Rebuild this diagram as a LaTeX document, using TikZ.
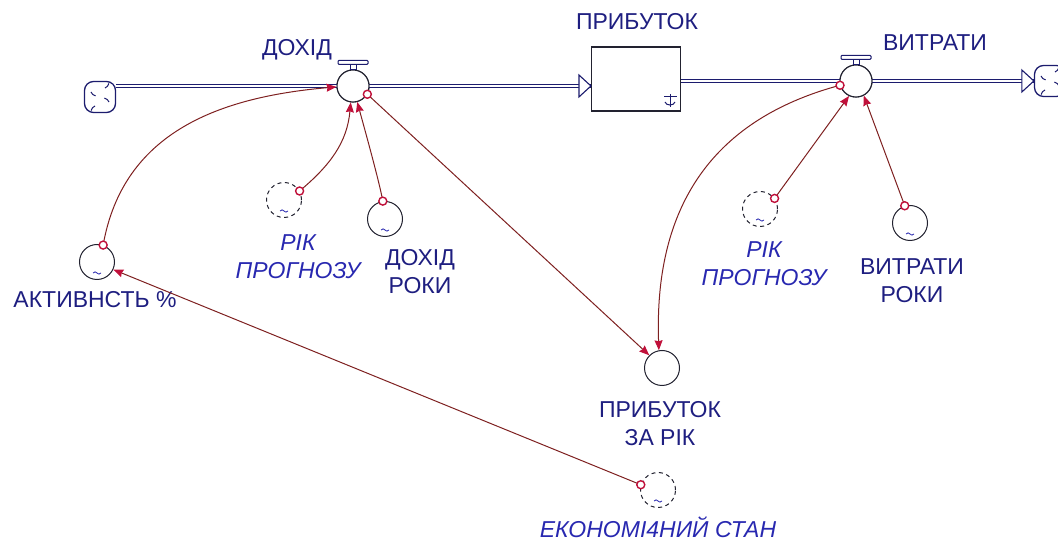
\documentclass[tikz,border=0pt]{standalone}
\usepackage{fontspec}
\setmainfont{Liberation Sans}
\usetikzlibrary{arrows.meta}
\definecolor{navy}{HTML}{1C1C6E}
\definecolor{lbl}{HTML}{1E1E80}
\definecolor{ital}{HTML}{2828B0}
\definecolor{connc}{HTML}{7E2020}
\definecolor{tipred}{HTML}{C0103A}
\definecolor{outl}{HTML}{222230}
\newcommand{\tld}[1]{\draw[ital,line width=0.8pt] ([shift={(-4,-11)}]#1.center) .. controls ([shift={(-1,-7)}]#1.center) and ([shift={(1,-15)}]#1.center) .. ([shift={(4,-11)}]#1.center);}
\newcommand{\cloudmarks}[1]{%
  \draw[navy,line width=1pt] ([shift={(-9,5)}]#1.center) arc[start angle=200,end angle=260,radius=6];
  \draw[navy,line width=1pt] ([shift={(5,9)}]#1.center) arc[start angle=290,end angle=350,radius=6];
  \draw[navy,line width=1pt] ([shift={(9,-5)}]#1.center) arc[start angle=20,end angle=80,radius=6];
  \draw[navy,line width=1pt] ([shift={(-5,-9)}]#1.center) arc[start angle=110,end angle=170,radius=6];}
\begin{document}
\begin{tikzpicture}[x=1pt,y=1pt,
  aux/.style={circle,draw=outl,line width=1pt,minimum size=35pt,inner sep=0pt,fill=white},
  ghost/.style={aux,dash pattern=on 4pt off 3.5pt},
  valvec/.style={circle,draw=outl,line width=1.1pt,minimum size=32pt,inner sep=0pt,fill=white},
  lab/.style={text=lbl,font=\fontsize{23}{28}\selectfont,align=center,inner sep=0pt},
  ilab/.style={text=ital,font=\fontsize{23}{28}\selectfont\itshape,align=center,inner sep=0pt},
  pipe/.style={draw=navy,line width=1.1pt,double=white,double distance=2.2pt},
  conn/.style={draw=connc,line width=1pt,-{Stealth[length=10pt,width=8pt,inset=1pt,color=tipred]}},
  src/.style={circle,draw=tipred,line width=1.4pt,minimum size=8pt,inner sep=0pt,fill=white},
  cloudn/.style={draw=navy,line width=1.3pt,rounded corners=9pt,minimum width=31pt,minimum height=31pt,inner sep=0pt,fill=white},
  stockn/.style={draw=outl,line width=1.1pt,minimum width=89pt,minimum height=64pt,inner sep=0pt,fill=white},
  tri/.style={draw=navy,line width=1.1pt,fill=white}
]
\useasboundingbox (0,0) rectangle (1058,543);
\clip (0,0) rectangle (1058,543);

% nodes
\node[cloudn] (cL) at (100,446) {};
\node[stockn] (stock) at (636,464) {};
\node[valvec] (v1) at (353,457) {};
\node[valvec] (v2) at (856,462) {};
\node[cloudn] (cR) at (1050,462) {};

% pipes
\coordinate (inTip) at (stock.west |- v1.center);
\coordinate (outTip) at (cR.west |- v2.center);
\draw[pipe] (cL.east |- v1.center) -- (inTip);
\draw[pipe] (stock.east |- v2.center) -- (outTip);
\draw[tri] ([shift={(-12,11)}]inTip) -- (inTip) -- ([shift={(-12,-11)}]inTip) -- cycle;
\draw[tri] ([shift={(-12,11)}]outTip) -- (outTip) -- ([shift={(-12,-11)}]outTip) -- cycle;
\cloudmarks{cL}
\cloudmarks{cR}

% valves redrawn on top
\node[valvec] at (v1) {};
\node[valvec] at (v2) {};
\foreach \v in {v1,v2}{
  \draw[navy,line width=0.9pt,fill=white] ([shift={(-3,0)}]\v.north) rectangle ([shift={(3,5)}]\v.north);
  \draw[navy,line width=1pt,fill=white,rounded corners=1pt] ([shift={(-15,5)}]\v.north) rectangle ([shift={(15,9)}]\v.north);
}

% stock symbol
\draw[navy,line width=1pt] (670,449) -- (670,436);
\draw[navy,line width=1pt] (664,446) -- (677,446);
\draw[navy,line width=1pt] (665,441) .. controls (666,437) and (674,437) .. (675,441);

% auxiliaries
\node[ghost] (rik1) at (284,343) {};
\node[aux] (dr) at (385,324) {};
\node[ghost] (rik2) at (760,334) {};
\node[aux] (vr) at (910,320) {};
\node[aux] (akt) at (97,281) {};
\node[aux] (pzr) at (662,175) {};
\node[ghost] (ek) at (658,53) {};
\foreach \n in {rik1,dr,rik2,vr,akt,ek}{\tld{\n}}

% labels
\node[lab] (lDohid) at (297,493) {ДОХІД};
\node[lab] (lStock) at (637,521) {ПРИБУТОК};
\node[lab] (lVytr) at (935,500) {ВИТРАТИ};
\node[ilab] (lRik1) at (298,286) {РІК\\ПРОГНОЗУ};
\node[lab] (lDr) at (420,271) {ДОХІД\\РОКИ};
\node[ilab] (lRik2) at (764,279) {РІК\\ПРОГНОЗУ};
\node[lab] (lVr) at (912,262) {ВИТРАТИ\\РОКИ};
\node[lab] (lAkt) at (95,243) {АКТИВНСТЬ \%};
\node[lab] (lPzr) at (660,119) {ПРИБУТОК\\ЗА РІК};
\node[ilab] (lEk) at (658,16) {ЕКОНОМІ4НИЙ СТАН};

% connectors
\draw[conn] (akt.70) to[out=80,in=185,looseness=1.05] (v1.183);
\draw[conn] (rik1.30) to[out=40,in=265] (v1.262);
\draw[conn] (dr.97) to[out=100,in=285,looseness=0.5] (v1.285);
\draw[conn] (v1.-30) -- (pzr.135);
\draw[conn] (v2.195) to[out=195,in=92,looseness=1.1] (pzr.100);
\draw[conn] (rik2.36) -- (v2.245);
\draw[conn] (vr.107) -- (v2.298);
\draw[conn] (ek.163) -- (akt.-25);

% source markers
\node[src] at (akt.70) {};
\node[src] at (rik1.30) {};
\node[src] at (dr.97) {};
\node[src] at (v1.-30) {};
\node[src] at (v2.195) {};
\node[src] at (rik2.36) {};
\node[src] at (vr.107) {};
\node[src] at (ek.163) {};
\end{tikzpicture}
\end{document}
